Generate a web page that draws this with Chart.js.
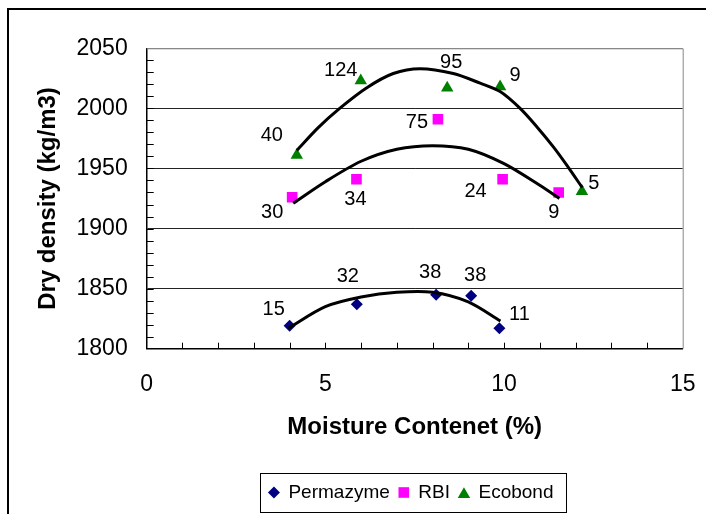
<!DOCTYPE html>
<html>
<head>
<meta charset="utf-8">
<script src="https://cdn.jsdelivr.net/npm/chart.js@4.4.1/dist/chart.umd.min.js"></script>
<style>
  html, body { margin: 0; padding: 0; background: #fff; }
  canvas { display: block; }
</style>
</head>
<body>
<canvas id="densityChart" width="706" height="514"></canvas>
<script>
// measured points (moisture %, dry density kg/m3) and the count labels beside them
const permazymeX = [4.0, 5.88, 8.1, 9.08, 9.87];
const permazymeY = [1819, 1837, 1845, 1844, 1817];
const permazymeLabels = ['15', '32', '38', '38', '11'];

const rbiX = [4.07, 5.87, 8.15, 9.96, 11.53];
const rbiY = [1926, 1941, 1991, 1941, 1930];
const rbiLabels = ['30', '34', '75', '24', '9'];

const ecobondX = [4.2, 5.99, 8.41, 9.89, 12.18];
const ecobondY = [1961, 2023, 2017, 2018, 1931];
const ecobondLabels = ['40', '124', '95', '9', '5'];

// hand drawn compaction curves
const permazymeCurveX = [3.96, 5, 6, 7, 8, 9, 9.9];
const permazymeCurveY = [1817, 1835, 1843, 1847, 1847, 1839, 1823];
const rbiCurveX = [4.1, 5, 6, 7, 8, 9, 10, 11, 11.55];
const rbiCurveY = [1921, 1939, 1956, 1966, 1969, 1966, 1954, 1936, 1925];
const ecobondCurveX = [4.2, 4.8, 5.4, 6.15, 6.9, 7.65, 8.58, 9.33, 9.89, 10.45, 10.91, 11.38, 11.75, 12.19];
const ecobondCurveY = [1965, 1984, 2000, 2017, 2029, 2033, 2029, 2021, 2014, 2000, 1985, 1968, 1953, 1934];

const xTicks = [0, 5, 10, 15];
const yTicks = [1800, 1850, 1900, 1950, 2000, 2050];

// where each count label sits relative to its marker (px)
const permazymeLabelPos = [[-16, -16], [-9, -28], [-6, -22], [4, -20], [20, -14]];
const rbiLabelPos = [[-20, 15], [-1, 20], [-21, 3], [-27, 12], [-5, 20]];
const ecobondLabelPos = [[-25, -20], [-20, -10], [4, -25], [15, -11], [12, -8]];

function toPoints(xs, ys) {
  return xs.map((x, i) => ({ x: x, y: ys[i] }));
}

Chart.defaults.font.family = "'Liberation Sans', Arial, sans-serif";
Chart.defaults.color = '#000';

const frameAndTicks = {
  id: 'frameAndTicks',
  beforeDraw(chart) {
    const c = chart.ctx;
    c.save();
    c.fillStyle = '#fff';
    c.fillRect(0, 0, chart.width, chart.height);
    c.strokeStyle = '#000';
    c.lineWidth = 2;
    c.strokeRect(8, 9, chart.width + 20, chart.height + 20);
    c.restore();
  },
  beforeDatasetsDraw(chart) {
    const c = chart.ctx, a = chart.chartArea;
    const xs = chart.scales.x, ys = chart.scales.y;
    c.save();
    c.strokeStyle = '#888';
    c.lineWidth = 1;
    c.beginPath();
    c.moveTo(a.left, a.top + 0.5);
    c.lineTo(a.right + 0.5, a.top + 0.5);
    c.lineTo(a.right + 0.5, a.bottom);
    c.stroke();
    c.strokeStyle = '#000';
    c.beginPath();
    for (let v = 1; v < 15; v++) {
      const px = Math.round(xs.getPixelForValue(v)) + 0.5;
      c.moveTo(px, a.bottom);
      c.lineTo(px, a.bottom - 6);
    }
    for (let v = 1810; v < 2050; v += 10) {
      const py = Math.round(ys.getPixelForValue(v)) + 0.5;
      c.moveTo(a.left, py);
      c.lineTo(a.left + 7, py);
    }
    c.stroke();
    c.restore();
  }
};

const countLabels = {
  id: 'countLabels',
  afterDatasetsDraw(chart) {
    const c = chart.ctx;
    c.save();
    c.font = "20px 'Liberation Sans', Arial, sans-serif";
    c.fillStyle = '#000';
    c.textAlign = 'center';
    c.textBaseline = 'middle';
    chart.data.datasets.forEach((ds, i) => {
      if (!ds.countLabels) return;
      chart.getDatasetMeta(i).data.forEach((pt, j) => {
        const off = ds.labelPos[j];
        c.fillText(ds.countLabels[j], pt.x + off[0], pt.y + off[1]);
      });
    });
    c.restore();
  }
};

const boxedLegend = {
  id: 'boxedLegend',
  afterDraw(chart) {
    const c = chart.ctx, a = chart.chartArea;
    const items = chart.data.datasets.filter(ds => ds.countLabels);
    c.save();
    c.font = "19px 'Liberation Sans', Arial, sans-serif";
    let total = 14 + 12;
    items.forEach((ds, i) => {
      total += 14.5 + c.measureText(ds.label).width + (i < items.length - 1 ? 14 : 0);
    });
    const left = (a.left + a.right) / 2 - 2 - total / 2;
    const top = 473.5, h = 39, cy = top + h / 2 - 0.5;
    c.strokeStyle = '#000';
    c.lineWidth = 1;
    c.strokeRect(Math.round(left) + 0.5, top, Math.round(total), h);
    let x = left + 14;
    c.textBaseline = 'middle';
    c.textAlign = 'left';
    items.forEach(ds => {
      c.fillStyle = ds.backgroundColor;
      c.strokeStyle = ds.borderColor;
      Chart.helpers.drawPoint(c, { pointStyle: ds.pointStyle, radius: ds.legendRadius, borderWidth: 0, rotation: 0 }, x, cy + (ds.pointStyle === 'triangle' ? 2 : 0));
      c.fillStyle = '#000';
      c.fillText(ds.label, x + 14.5, cy);
      x += 14.5 + c.measureText(ds.label).width + 14;
    });
    c.restore();
  }
};

function curve(xs, ys) {
  return {
    label: '',
    data: toPoints(xs, ys),
    showLine: true,
    borderColor: '#000',
    borderWidth: 3,
    pointRadius: 0,
    tension: 0.3,
    fill: false,
    order: 0
  };
}

new Chart(document.getElementById('densityChart'), {
  type: 'scatter',
  data: {
    datasets: [
      {
        label: 'Permazyme',
        data: toPoints(permazymeX, permazymeY),
        pointStyle: 'rectRot',
        pointRadius: 6,
        legendRadius: 6,
        backgroundColor: '#000080',
        borderColor: '#000080',
        borderWidth: 0,
        countLabels: permazymeLabels,
        labelPos: permazymeLabelPos,
        order: 1
      },
      {
        label: 'RBI',
        data: toPoints(rbiX, rbiY),
        pointStyle: 'rect',
        pointRadius: 7.5,
        legendRadius: 7.5,
        backgroundColor: '#ff00ff',
        borderColor: '#ff00ff',
        borderWidth: 0,
        countLabels: rbiLabels,
        labelPos: rbiLabelPos,
        order: 1
      },
      {
        label: 'Ecobond',
        data: toPoints(ecobondX, ecobondY),
        pointStyle: 'triangle',
        pointRadius: 7.2,
        legendRadius: 7.2,
        backgroundColor: '#008000',
        borderColor: '#008000',
        borderWidth: 0,
        countLabels: ecobondLabels,
        labelPos: ecobondLabelPos,
        order: 1
      },
      curve(permazymeCurveX, permazymeCurveY),
      curve(rbiCurveX, rbiCurveY),
      curve(ecobondCurveX, ecobondCurveY)
    ]
  },
  options: {
    responsive: false,
    animation: false,
    events: [],
    layout: { padding: { left: 0, top: 48.3, right: 23.3, bottom: 0 } },
    plugins: {
      legend: { display: false },
      tooltip: { enabled: false }
    },
    scales: {
      x: {
        type: 'linear',
        min: 0,
        max: 15,
        afterBuildTicks: s => { s.ticks = xTicks.map(v => ({ value: v })); },
        afterFit: s => { s.height = 165.3; s.paddingLeft = 0; s.paddingRight = 0; },
        grid: { display: false, drawTicks: false },
        border: { display: true, color: '#000', width: 1.5 },
        ticks: { padding: 22, font: { size: 23 }, color: '#000', maxRotation: 0, callback: v => String(v) },
        title: {
          display: true,
          text: 'Moisture Contenet (%)',
          font: { size: 24, weight: 'bold' },
          color: '#000',
          padding: { top: 0, bottom: 72.6 }
        }
      },
      y: {
        type: 'linear',
        min: 1800,
        max: 2050,
        afterBuildTicks: s => { s.ticks = yTicks.map(v => ({ value: v })); },
        afterFit: s => { s.width = 146.7; s.paddingTop = 0; s.paddingBottom = 0; },
        grid: {
          drawTicks: false,
          lineWidth: 1,
          color: c => c.tick && c.tick.value === 2050 ? '#888' : (c.tick && c.tick.value === 1800 ? 'rgba(0,0,0,0)' : '#222')
        },
        border: { display: true, color: '#000', width: 1.5 },
        ticks: { padding: 19, font: { size: 23 }, color: '#000', callback: v => String(v) },
        title: {
          display: true,
          text: 'Dry density (kg/m3)',
          font: { size: 24, weight: 'bold' },
          color: '#000',
          padding: { top: 34, bottom: 0 }
        }
      }
    }
  },
  plugins: [frameAndTicks, countLabels, boxedLegend]
});
</script>
</body>
</html>
